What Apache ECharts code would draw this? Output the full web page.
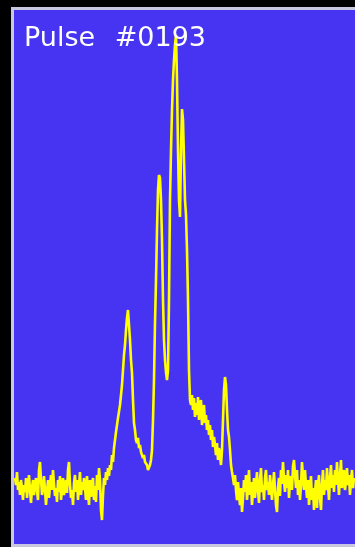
<!DOCTYPE html>
<html>
<head>
<meta charset="utf-8">
<script src="https://cdn.jsdelivr.net/npm/echarts@6/dist/echarts.min.js"></script>
<style>
html,body{margin:0;padding:0;background:#000;}
#c{width:355px;height:547px;}
</style>
</head>
<body>
<div id="c"></div>
<script>
var titleWord = "Pulse";
var titleNumber = "#0193";
// pulse intensity per phase bin (arbitrary units)
var intensity = [
67,60,73,55,63,50,65,57,45,60,
53,67,47,59,70,55,42,57,65,50,
60,67,55,45,75,83,65,50,57,69,
55,40,53,65,47,59,70,55,75,61,
49,57,43,65,53,69,45,56,67,50,
59,65,52,75,83,60,47,55,40,62,
70,53,65,45,59,73,50,63,55,67,
57,45,69,53,40,65,48,60,67,45,
59,43,70,55,77,65,35,25,50,67,
60,73,65,77,69,80,75,90,83,97,
105,113,120,127,125,140,150,160,175,190,
200,215,227,235,220,205,185,172,145,122,
115,105,102,107,97,100,93,95,87,90,
83,85,80,75,73,80,85,95,125,165,
222,265,315,355,370,367,345,305,245,205,
185,173,165,175,245,345,395,435,465,485,
500,510,465,395,345,328,395,436,425,385,
345,330,295,245,175,145,140,150,135,147,
128,142,130,148,125,138,145,120,130,140,
122,130,115,125,110,120,105,115,98,108,
100,90,102,85,97,90,80,95,125,155,
168,160,135,115,108,95,80,73,67,60,
70,55,45,63,50,40,57,33,47,65,
53,70,45,59,75,50,63,40,55,67,
47,60,73,55,42,65,77,53,60,45,
67,75,55,63,50,70,57,45,60,73,
55,40,33,57,67,49,75,61,83,65,
53,70,57,75,47,63,69,55,79,85,
70,57,75,50,65,45,60,83,67,55,
75,60,47,65,40,55,69,45,57,35,
53,65,37,59,70,47,35,60,75,50,
65,55,77,60,45,67,80,57,70,53,
75,60,83,65,50,70,85,57,67,75,
55,65,77,60,70,50,65,75,57,67
];
var phase = intensity.map(function(_, i){ return i; });
var data = phase.map(function(p, i){ return [p, intensity[i]]; });

var chart = echarts.init(document.getElementById('c'), null, {renderer:'canvas'});
chart.setOption({
  backgroundColor: '#000',
  animation: false,
  graphic: [{
    type: 'rect', z: -10,
    shape: {x: 12.5, y: 8.5, width: 360, height: 537},
    style: {fill: '#4634f2', stroke: '#c8c8e0', lineWidth: 3}
  }],
  title: {
    text: '{a|' + titleWord + '} {b|' + titleNumber + '}', left: 19, top: 20,
    textStyle: {
      color: '#ffffff', fontFamily: 'DejaVu Sans', fontSize: 27, fontWeight: 'normal',
      rich: {
        a: {color: '#ffffff', fontFamily: 'DejaVu Sans', fontSize: 27},
        b: {color: '#ffffff', fontFamily: 'DejaVu Sans', fontSize: 27, padding: [0, 0, 0, 11]}
      }
    }
  },
  grid: {left: 15, right: 0, top: 10, bottom: 2},
  xAxis: {type: 'value', min: 0, max: 340, show: false},
  yAxis: {type: 'value', min: 0, max: 535, show: false},
  series: [{
    type: 'line', data: data, symbol: 'none',
    lineStyle: {color: '#ffff00', width: 2.6},
    z: 3
  }]
});
</script>
</body>
</html>
